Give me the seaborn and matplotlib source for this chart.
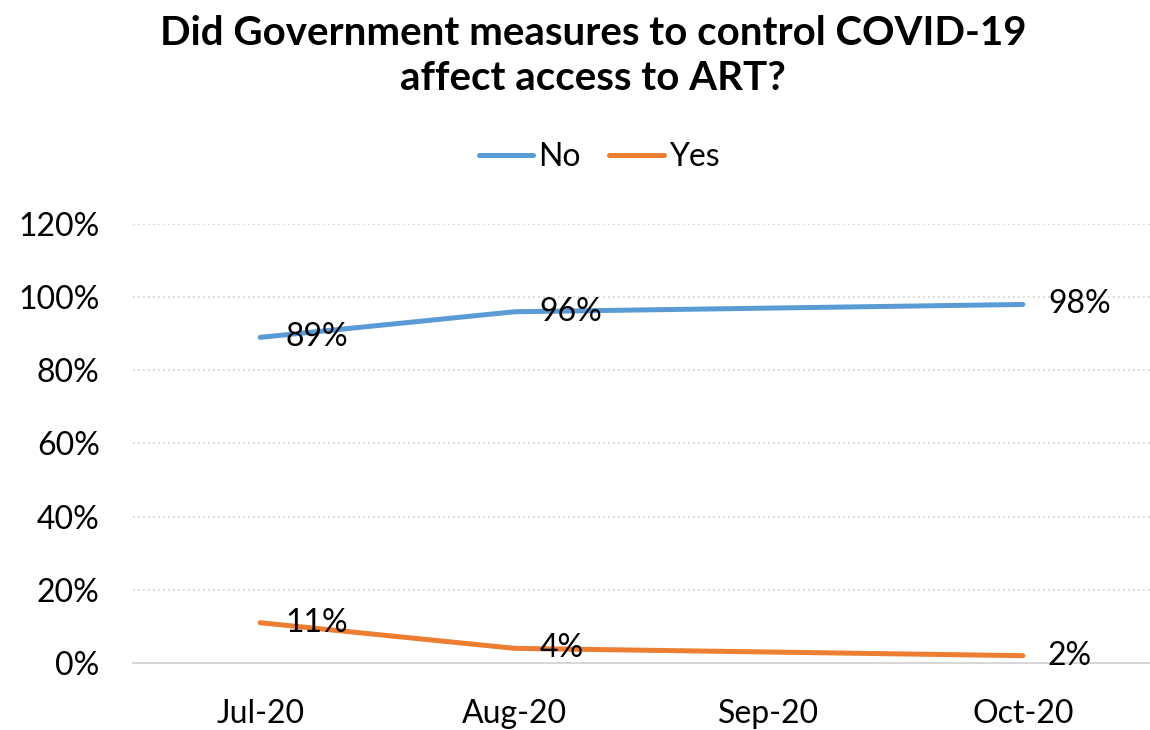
import matplotlib
matplotlib.use("Agg")
import matplotlib.pyplot as plt
import seaborn as sns
import pandas as pd
from matplotlib.lines import Line2D

months = ["Jul-20", "Aug-20", "Oct-20"]
no_vals = [89, 96, 98]
yes_vals = [11, 4, 2]
tick_labels = ["Jul-20", "Aug-20", "Sep-20", "Oct-20"]
y_ticks = [0, 20, 40, 60, 80, 100, 120]

sns.set_theme(style="white")
plt.rcParams["font.family"] = ["Lato", "DejaVu Sans"]
plt.rcParams["text.color"] = "black"

def month_pos(lbl):
    d = pd.to_datetime(lbl, format="%b-%y")
    b = pd.to_datetime(tick_labels[0], format="%b-%y")
    return (d.year - b.year) * 12 + (d.month - b.month)

xpos = [month_pos(m) for m in months]
df = pd.DataFrame({
    "x": xpos * 2,
    "value": no_vals + yes_vals,
    "series": ["No"] * len(months) + ["Yes"] * len(months),
})

fig = plt.figure(figsize=(11.5, 7.3), dpi=100)
ax = fig.add_axes([0.1157, 0.0918, 0.8843, 0.6014])
palette = {"No": "#5B9BD5", "Yes": "#ED7D31"}
sns.lineplot(data=df, x="x", y="value", hue="series", palette=palette,
             linewidth=3.6, ax=ax, legend=False, solid_capstyle="round")

for s, vals in [("No", no_vals), ("Yes", yes_vals)]:
    for xp, v in zip(xpos, vals):
        ax.annotate(f"{v}%", (xp, v), xytext=(18, 0), textcoords="offset points",
                    ha="left", va="center", fontsize=23, color="black")

ax.set_xlim(-0.5, len(tick_labels) - 0.5)
ax.set_ylim(0, 120)
ax.set_xticks(range(len(tick_labels)))
ax.set_xticklabels(tick_labels, fontsize=23)
ax.set_yticks(y_ticks)
ax.set_yticklabels([f"{t}%" for t in y_ticks], fontsize=23)
ax.tick_params(axis="x", length=0, pad=26, colors="black")
ax.tick_params(axis="y", length=0, pad=24, colors="black")
ax.set_xlabel("")
ax.set_ylabel("")
for t in y_ticks[1:]:
    ax.axhline(t, color="#D0D0D0", linestyle=(0, (1, 2)), linewidth=1.2, zorder=0)
for sp in ["top", "right", "left"]:
    ax.spines[sp].set_visible(False)
ax.spines["bottom"].set_color("#D0D0D0")
ax.spines["bottom"].set_linewidth(1.2)

handles = [Line2D([0], [0], color=palette[k], lw=3.6, solid_capstyle="round") for k in ["No", "Yes"]]
leg = fig.legend(handles, ["No", "Yes"], loc="center", bbox_to_anchor=(0.521, 0.785), ncol=2,
                 frameon=False, fontsize=23, handlelength=1.7, handletextpad=0.15, columnspacing=0.9)
for t in leg.get_texts():
    t.set_color("black")

fig.suptitle("Did Government measures to control COVID-19\naffect access to ART?",
             x=0.516, y=0.923, va="center", fontsize=29, fontweight="bold",
             linespacing=1.25, color="black")

fig.savefig("out.png", dpi=100)
